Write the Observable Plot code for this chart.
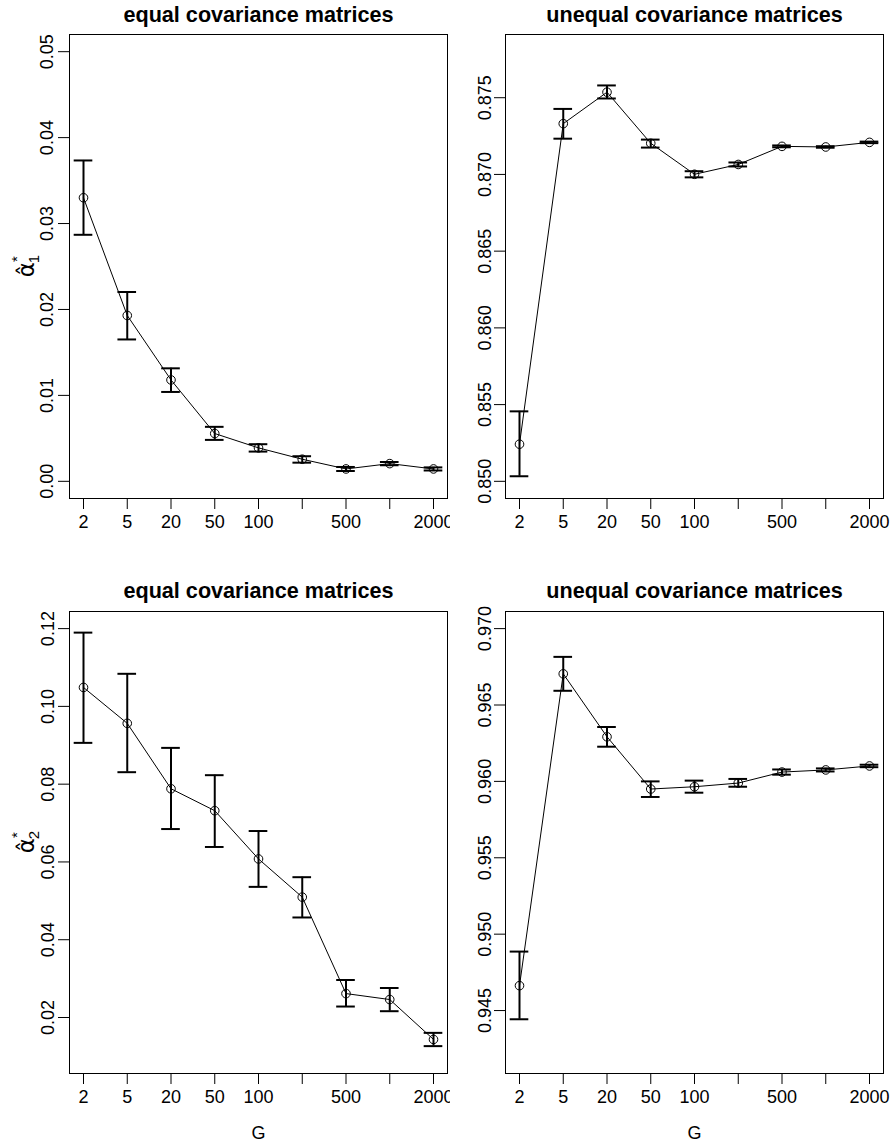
<!DOCTYPE html>
<html>
<head>
<meta charset="utf-8">
<script src="https://cdn.jsdelivr.net/npm/d3@7"></script>
<script src="https://cdn.jsdelivr.net/npm/@observablehq/plot@0.6"></script>
<style>
  body { margin: 0; background: #fff; width: 894px; height: 1141px; position: relative; overflow: hidden;
         font-family: "Liberation Sans", Arial, sans-serif; }
  .panel { position: absolute; }
  .panel svg { overflow: visible; }
</style>
</head>
<body>
<div id="tl" class="panel" style="left:0px;top:0px"></div>
<div id="tr" class="panel" style="left:450px;top:0px"></div>
<div id="bl" class="panel" style="left:0px;top:570px"></div>
<div id="br" class="panel" style="left:450px;top:570px"></div>
<script>
// ---- data ----
const G_INDEX  = [1, 2, 3, 4, 5, 6, 7, 8, 9];
const G_LABELS = ["2", "5", "20", "50", "100", "", "500", "", "2000"];

// alpha_1, equal covariance matrices
const a1EqMean  = [0.03300, 0.01930, 0.01180, 0.00556, 0.00389, 0.00257, 0.00144, 0.00206, 0.00144];
const a1EqLower = [0.02869, 0.01651, 0.01040, 0.00482, 0.00346, 0.00217, 0.00120, 0.00187, 0.00126];
const a1EqUpper = [0.03734, 0.02203, 0.01315, 0.00634, 0.00432, 0.00292, 0.00167, 0.00225, 0.00162];

// alpha_1, unequal covariance matrices
const a1UneqMean  = [0.85242, 0.87331, 0.87536, 0.87203, 0.87001, 0.87065, 0.87183, 0.87179, 0.87209];
const a1UneqLower = [0.85033, 0.87233, 0.87495, 0.87175, 0.86981, 0.87052, 0.87177, 0.87174, 0.87204];
const a1UneqUpper = [0.85456, 0.87427, 0.87580, 0.87227, 0.87021, 0.87078, 0.87189, 0.87184, 0.87214];

// alpha_2, equal covariance matrices
const a2EqMean  = [0.10487, 0.09564, 0.07882, 0.07318, 0.06077, 0.05095, 0.02615, 0.02462, 0.01436];
const a2EqLower = [0.09062, 0.08308, 0.06846, 0.06385, 0.05359, 0.04572, 0.02282, 0.02162, 0.01264];
const a2EqUpper = [0.11897, 0.10838, 0.08933, 0.08231, 0.06795, 0.05608, 0.02964, 0.02759, 0.01605];

// alpha_2, unequal covariance matrices
const a2UneqMean  = [0.94663, 0.96704, 0.96292, 0.95950, 0.95965, 0.95989, 0.96061, 0.96075, 0.96101];
const a2UneqLower = [0.94443, 0.96593, 0.96227, 0.95898, 0.95926, 0.95965, 0.96044, 0.96065, 0.96093];
const a2UneqUpper = [0.94886, 0.96815, 0.96356, 0.96000, 0.96005, 0.96016, 0.96078, 0.96085, 0.96109];

// axis ticks
const yTicksA1Eq   = [0.00, 0.01, 0.02, 0.03, 0.04, 0.05];
const yTicksA1Uneq = [0.850, 0.855, 0.860, 0.865, 0.870, 0.875];
const yTicksA2Eq   = [0.02, 0.04, 0.06, 0.08, 0.10, 0.12];
const yTicksA2Uneq = [0.945, 0.950, 0.955, 0.960, 0.965, 0.970];

const TITLE_EQ = "equal covariance matrices";
const TITLE_UNEQ = "unequal covariance matrices";
const X_LABEL = "G";

// ---- drawing ----
const CAP = 0.213;
function rows(mean, lo, hi) {
  return G_INDEX.map((i, k) => ({ i, m: mean[k], lo: lo[k], hi: hi[k] }));
}

function panel(cfg) {
  const data = rows(cfg.mean, cfg.lower, cfg.upper);
  const marks = [
    Plot.frame({ stroke: "black", strokeWidth: 1 }),
    Plot.axisX({ ticks: G_INDEX, tickFormat: i => G_LABELS[i - 1], tickSize: 11, tickPadding: 6,
                 fontSize: 18, label: null, stroke: "black" }),
    Plot.axisY({ ticks: cfg.yTicks, tickSize: 11, tickFormat: () => "", label: null, stroke: "black" }),
    Plot.text(cfg.yTicks, { y: d => d, text: d => d.toFixed(cfg.digits), frameAnchor: "left",
                 rotate: -90, textAnchor: "middle", lineAnchor: "bottom", dx: cfg.labelDx, fontSize: 18, fill: "black" }),
    Plot.line(data, { x: "i", y: "m", stroke: "black", strokeWidth: 1 }),
    Plot.dot(data, { x: "i", y: "m", r: 4.3, stroke: "black", strokeWidth: 1, fill: "none" }),
    Plot.ruleX(data, { x: "i", y1: "lo", y2: "hi", stroke: "black", strokeWidth: 2 }),
    Plot.ruleY(data, { y: "lo", x1: d => d.i - CAP, x2: d => d.i + CAP, stroke: "black", strokeWidth: 2 }),
    Plot.ruleY(data, { y: "hi", x1: d => d.i - CAP, x2: d => d.i + CAP, stroke: "black", strokeWidth: 2 }),
    Plot.text([cfg.title], { frameAnchor: "top", lineAnchor: "bottom", dy: cfg.titleDy,
                 fontSize: 21.6, fontWeight: "bold", fill: "black" })
  ];
  if (cfg.xLabel) {
    marks.push(Plot.text([cfg.xLabel], { frameAnchor: "bottom", lineAnchor: "bottom", dy: 65,
                 fontSize: 18, fill: "black" }));
  }
  const svg = Plot.plot({
    width: cfg.width, height: cfg.height,
    marginLeft: cfg.ml, marginRight: cfg.mr, marginTop: cfg.mt, marginBottom: cfg.mb,
    style: { fontFamily: "Liberation Sans, Arial, sans-serif", background: "white", color: "black", overflow: "visible" },
    x: { domain: [0.68, 9.32], axis: null },
    y: { domain: cfg.yDomain, axis: null },
    marks
  });
  if (cfg.yLabelSub) {
    const t = d3.select(svg).append("text")
      .attr("transform", `translate(${cfg.yLabelX},${cfg.yLabelY}) rotate(-90)`)
      .attr("text-anchor", "middle")
      .attr("font-family", "DejaVu Sans, Liberation Sans, sans-serif")
      .attr("font-size", 23)
      .attr("fill", "black");
    t.append("tspan").text("\u03B1\u0302");
    t.append("tspan").attr("font-family", "Liberation Sans, Arial, sans-serif")
      .attr("font-size", 15).attr("dy", -12).text("*");
    t.append("tspan").attr("font-family", "Liberation Sans, Arial, sans-serif")
      .attr("font-size", 15).attr("dx", -7).attr("dy", 17).text(cfg.yLabelSub);
  }
  return svg;
}

document.getElementById("tl").appendChild(panel({
  mean: a1EqMean, lower: a1EqLower, upper: a1EqUpper, yTicks: yTicksA1Eq, digits: 2,
  yDomain: [-0.002, 0.052], title: TITLE_EQ, titleDy: -13, labelDx: -16.5,
  width: 450, height: 570, ml: 69, mr: 3, mt: 34, mb: 72,
  yLabelSub: "1", yLabelX: 34, yLabelY: 266
}));
document.getElementById("tr").appendChild(panel({
  mean: a1UneqMean, lower: a1UneqLower, upper: a1UneqUpper, yTicks: yTicksA1Uneq, digits: 3,
  yDomain: [0.84888, 0.87912], title: TITLE_UNEQ, titleDy: -13, labelDx: -15,
  width: 444, height: 570, ml: 55, mr: 11, mt: 34, mb: 72
}));
document.getElementById("bl").appendChild(panel({
  mean: a2EqMean, lower: a2EqLower, upper: a2EqUpper, yTicks: yTicksA2Eq, digits: 2,
  yDomain: [0.0056, 0.1244], title: TITLE_EQ, titleDy: -14, labelDx: -16,
  width: 450, height: 571, ml: 69, mr: 3, mt: 41, mb: 68, xLabel: X_LABEL,
  yLabelSub: "2", yLabelX: 34, yLabelY: 272
}));
document.getElementById("br").appendChild(panel({
  mean: a2UneqMean, lower: a2UneqLower, upper: a2UneqUpper, yTicks: yTicksA2Uneq, digits: 3,
  yDomain: [0.94088, 0.97112], title: TITLE_UNEQ, titleDy: -14, labelDx: -15,
  width: 444, height: 571, ml: 55, mr: 11, mt: 41, mb: 68, xLabel: X_LABEL
}));
</script>
</body>
</html>
